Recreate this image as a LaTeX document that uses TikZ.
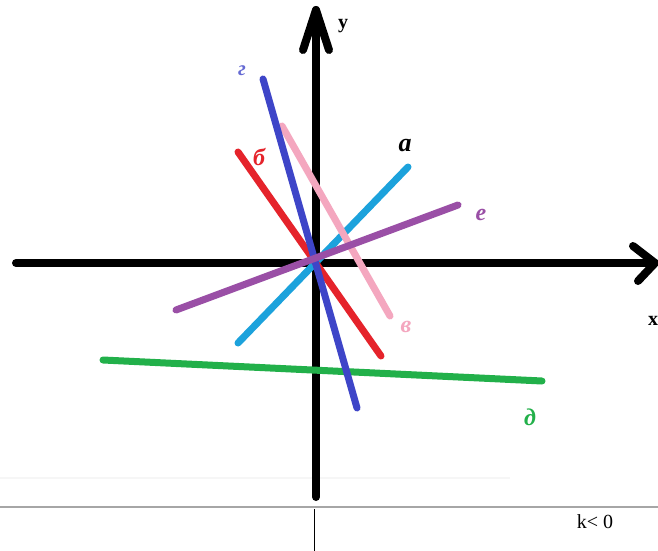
\documentclass[tikz,border=0pt]{standalone}
\usepackage{fontspec}
\setmainfont{Liberation Serif}
\begin{document}
\begin{tikzpicture}[x=1pt,y=-1pt,
  axis/.style={line width=8pt,line cap=round,line join=round,black},
  seg/.style={line width=7pt,line cap=round},
  lbl/.style={inner sep=0pt,font=\fontsize{24}{24}\selectfont\bfseries\itshape}]
\definecolor{ccyan}{HTML}{1CA2DC}
\definecolor{cred}{HTML}{E5232B}
\definecolor{cblue}{HTML}{3E45C8}
\definecolor{cpink}{HTML}{F4A7BF}
\definecolor{cpurple}{HTML}{9A4FA6}
\definecolor{cgreen}{HTML}{22B04A}
\useasboundingbox (0,0) rectangle (658,551);
\fill[white] (0,0) rectangle (658,551);
% faint line
\draw[gray!7,line width=1.5pt] (0,478) -- (510,478);
% axes
\coordinate (ytop) at (316,10);
\coordinate (ybot) at (316,497);
\coordinate (xl) at (16,263);
\coordinate (xr) at (655,263);
\draw[axis] (ybot) -- (ytop);
\coordinate (ya1) at (303,50);
\coordinate (ya2) at (329,50);
\draw[axis] (ya1) -- (ytop) -- (ya2);
\draw[axis] (xl) -- (xr);
\coordinate (xa1) at (633,246);
\coordinate (xa2) at (638,281);
\draw[axis] (xa1) -- (xr) -- (xa2);
\node[inner sep=0pt,font=\fontsize{20}{20}\selectfont\bfseries] (ylab) at (343,26) {y};
\node[inner sep=0pt,font=\fontsize{20}{20}\selectfont\bfseries] (xlab) at (653,321) {x};
% segments
\coordinate (d1) at (103,360); \coordinate (d2) at (542,381);
\draw[seg,cgreen] (d1) -- (d2);
\coordinate (e1) at (176,310); \coordinate (e2) at (458,205);
\coordinate (a1) at (238,343); \coordinate (a2) at (408,167);
\coordinate (b1) at (238,152); \coordinate (b2) at (381,356);
\coordinate (v1) at (282,126); \coordinate (v2) at (390,316);
\coordinate (g1) at (263,79); \coordinate (g2) at (357,408);
\draw[seg,ccyan] (a1) -- (a2);
\draw[seg,cpink] (v1) -- (v2);
\draw[seg,cred] (b1) -- (b2);
\draw[seg,cblue] (g1) -- (g2);
\draw[seg,cpurple] (e1) -- (e2);
% labels
\node[lbl,font=\fontsize{26}{26}\selectfont\bfseries\itshape] (la) at (405,146) {a};
\node[lbl,cred] (lb) at (259,157) {б};
\node[lbl,cblue!80,font=\fontsize{21}{21}\selectfont\bfseries\itshape] (lg) at (242,71) {г};
\node[lbl,cpink] (lv) at (406,327) {в};
\node[lbl,cpurple] (le) at (481,215) {е};
\node[lbl,cgreen] (ld) at (530,417) {д};
% bottom
\coordinate (hl) at (0,507); \coordinate (hr) at (658,507);
\draw[gray!70,line width=2pt] (hl) -- (hr);
\coordinate (vt) at (314,509); \coordinate (vb) at (314,551);
\draw[black,line width=1pt] (vt) -- (vb);
\node[inner sep=0pt,font=\fontsize{20}{20}\selectfont] (k) at (595,522) {k< 0};
\end{tikzpicture}
\end{document}
